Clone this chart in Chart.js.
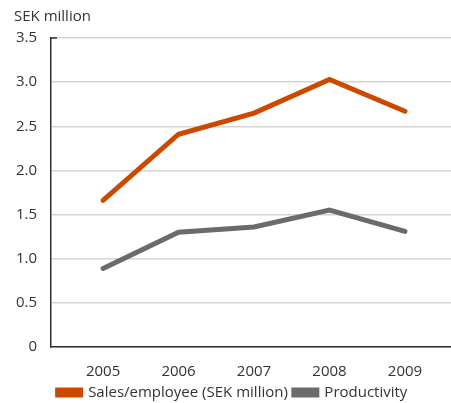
<!DOCTYPE html>
<html>
<head>
<meta charset="utf-8">
<script src="https://cdn.jsdelivr.net/npm/chart.js@4"></script>
<style>
  html, body { margin: 0; padding: 0; background: #fff; }
  #wrap { width: 451px; height: 403px; position: relative; }
</style>
</head>
<body>
<div id="wrap"><canvas id="chart"></canvas></div>
<script>
const years = [2005, 2006, 2007, 2008, 2009];
const salesPerEmployee = [1.66, 2.41, 2.65, 3.03, 2.67];
const productivity = [0.89, 1.30, 1.36, 1.55, 1.31];
const yTicks = [0, 0.5, 1.0, 1.5, 2.0, 2.5, 3.0, 3.5];

const ORANGE = '#cc4a00';
const GREY = '#6b6b6b';
const TEXT = '#333333';
const AXIS = '#2e2e2e';
const GRID = '#d5d5cd';
const FONT = '"Open Sans", "Noto Sans", sans-serif';

const points = vals => years.map((yr, i) => ({ x: yr, y: vals[i] }));

const dsLine = (label, data, color) => ({
  label, data,
  borderColor: color,
  backgroundColor: color,
  borderWidth: 5,
  borderCapStyle: 'round',
  borderJoinStyle: 'miter',
  pointRadius: 0,
  tension: 0,
  fill: false
});

// short dark tick at the top of the value axis
const topTick = {
  id: 'topTick',
  afterDraw(chart) {
    const { ctx, scales: { y } } = chart;
    const py = y.getPixelForValue(3.5);
    ctx.save();
    ctx.strokeStyle = AXIS;
    ctx.lineWidth = 1.5;
    ctx.beginPath();
    ctx.moveTo(y.right - 0.75, py);
    ctx.lineTo(y.right + 6, py);
    ctx.stroke();
    ctx.restore();
  }
};

new Chart(document.getElementById('chart'), {
  type: 'line',
  data: {
    datasets: [
      dsLine('Sales/employee (SEK million)', points(salesPerEmployee), ORANGE),
      dsLine('Productivity', points(productivity), GREY)
    ]
  },
  plugins: [topTick],
  options: {
    responsive: true,
    maintainAspectRatio: false,
    animation: false,
    layout: { padding: { left: 14, right: 0, top: 0, bottom: -7 } },
    plugins: {
      tooltip: { enabled: false },
      title: {
        display: true,
        text: 'SEK million',
        align: 'start',
        color: TEXT,
        font: { family: FONT, size: 15, weight: 'normal' },
        padding: { top: 8, bottom: 12 }
      },
      legend: {
        position: 'bottom',
        labels: {
          color: TEXT,
          font: { family: FONT, size: 15 },
          boxWidth: 23,
          boxHeight: 5,
          padding: 6
        }
      }
    },
    scales: {
      x: {
        type: 'linear',
        min: 2004.31,
        max: 2009.61,
        afterBuildTicks: s => { s.ticks = years.map(v => ({ value: v })); },
        afterFit: s => { s.height = 32; },
        ticks: {
          color: TEXT,
          font: { family: FONT, size: 15 },
          padding: 8,
          maxRotation: 0,
          callback: v => String(v)
        },
        grid: { display: false },
        border: { color: AXIS, width: 1.5 }
      },
      y: {
        min: 0,
        max: 3.5,
        afterBuildTicks: s => { s.ticks = yTicks.map(v => ({ value: v })); },
        afterFit: s => { s.width = 37; },
        ticks: {
          color: TEXT,
          font: { family: FONT, size: 15 },
          padding: 14,
          callback: v => v === 0 ? '0' : v.toFixed(1)
        },
        grid: { color: GRID, lineWidth: 1.5, drawTicks: false },
        border: { color: AXIS, width: 1.5 }
      }
    }
  }
});
</script>
</body>
</html>
